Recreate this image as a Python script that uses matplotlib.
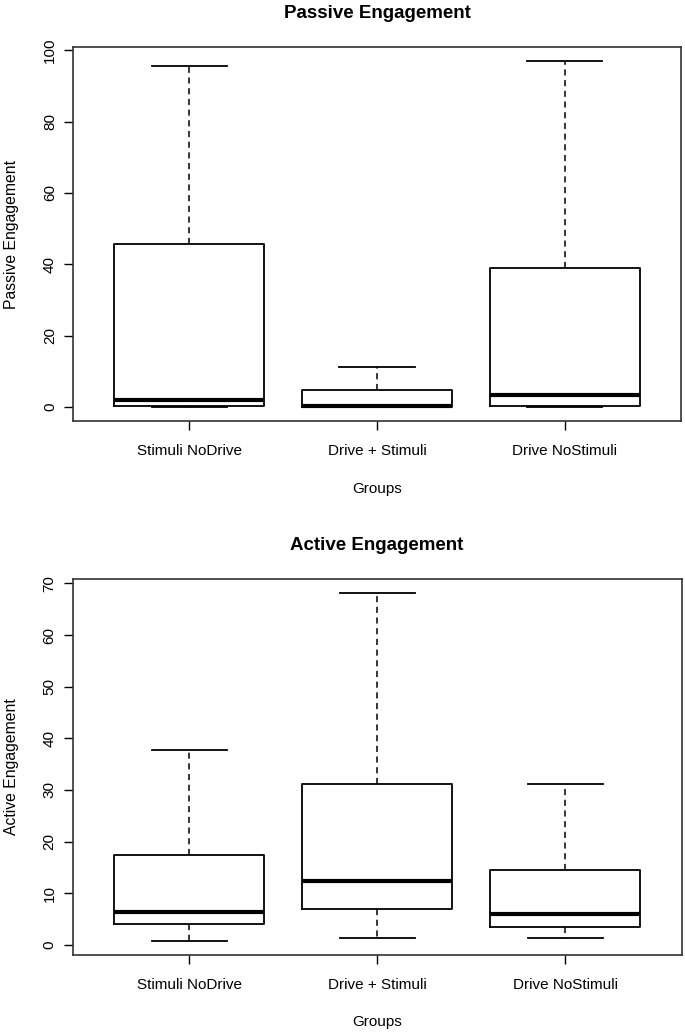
import matplotlib
matplotlib.use("Agg")
import matplotlib.pyplot as plt

plt.rcParams['font.family'] = ['Liberation Sans', 'DejaVu Sans']

groups = ["Stimuli NoDrive", "Drive + Stimuli", "Drive NoStimuli"]

# five-number summaries: low whisker, Q1, median, Q3, high whisker
passive_low = [0.0, 0.0, 0.0]
passive_q1 = [0.3, 0.0, 0.3]
passive_med = [2.0, 0.3, 3.4]
passive_q3 = [45.8, 4.8, 38.9]
passive_high = [95.6, 11.3, 97.0]

active_low = [0.8, 1.3, 1.3]
active_q1 = [4.1, 6.9, 3.4]
active_med = [6.4, 12.3, 6.0]
active_q3 = [17.4, 31.2, 14.6]
active_high = [37.7, 68.2, 31.2]


def make_stats(low, q1, med, q3, high):
    return [dict(whislo=a, q1=b, med=c, q3=d, whishi=e, fliers=[])
            for a, b, c, d, e in zip(low, q1, med, q3, high)]


def draw_panel(ax, stats, title, ylabel, yticks):
    ax.bxp(stats, positions=[1, 2, 3], widths=0.8, showfliers=False,
           boxprops=dict(color='black', linewidth=1.3),
           medianprops=dict(color='black', linewidth=3),
           whiskerprops=dict(color='black', linewidth=1.1, linestyle=(0, (4, 3))),
           capprops=dict(color='black', linewidth=1.3),
           capwidths=0.4)
    lo = min(s['whislo'] for s in stats)
    hi = max(s['whishi'] for s in stats)
    pad = (hi - lo) * 0.04
    ax.set_ylim(lo - pad, hi + pad)
    ax.set_xlim(0.38, 3.62)
    ax.set_xticks([1, 2, 3])
    ax.set_xticklabels(groups, fontsize=11)
    ax.set_yticks(yticks)
    ax.set_yticklabels([str(t) for t in yticks], rotation=90, va='center', fontsize=11)
    ax.tick_params(length=6.5, width=1, pad=5, colors='black')
    ax.tick_params(axis='x', pad=10)
    ax.set_title(title, fontsize=13.5, fontweight='bold', pad=21)
    ax.set_xlabel("Groups", fontsize=11, labelpad=17)
    ax.set_ylabel(ylabel, fontsize=11.3, labelpad=17)
    for sp in ax.spines.values():
        sp.set_linewidth(1.2)
        sp.set_color('#333333')


fig = plt.figure(figsize=(6.85, 10.32), dpi=100)
ax1 = fig.add_axes([0.1066, 0.592, 0.8876, 0.3625])
ax2 = fig.add_axes([0.1061, 0.0749, 0.8890, 0.3643])

draw_panel(ax1, make_stats(passive_low, passive_q1, passive_med, passive_q3, passive_high),
           "Passive Engagement", "Passive Engagement", [0, 20, 40, 60, 80, 100])
draw_panel(ax2, make_stats(active_low, active_q1, active_med, active_q3, active_high),
           "Active Engagement", "Active Engagement", [0, 10, 20, 30, 40, 50, 60, 70])

fig.savefig("out.png", dpi=100, facecolor='white')
